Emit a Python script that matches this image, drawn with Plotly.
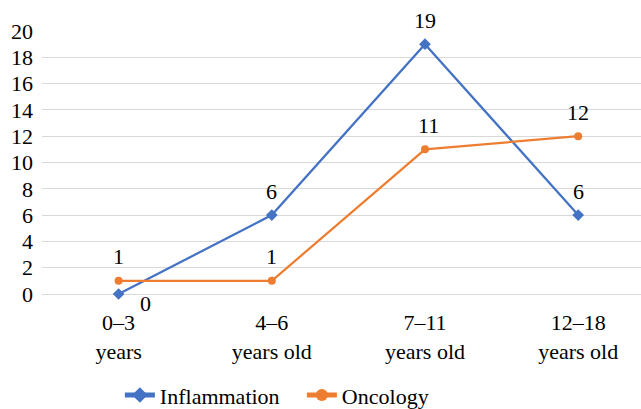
import plotly.graph_objects as go

categories = ["0–3<br>years", "4–6<br>years old", "7–11<br>years old", "12–18<br>years old"]
inflammation = [0, 6, 19, 6]
oncology = [1, 1, 11, 12]
y_ticks = list(range(0, 21, 2))

BLUE = "#4472C4"
ORANGE = "#ED7D31"
FONT = "Liberation Serif"

x_idx = list(range(len(categories)))

fig = go.Figure()
fig.add_trace(go.Scatter(
    x=x_idx, y=inflammation, name="Inflammation", mode="lines+markers",
    line=dict(color=BLUE, width=2.25),
    marker=dict(symbol="diamond", size=9, color=BLUE),
    cliponaxis=False,
))
fig.add_trace(go.Scatter(
    x=x_idx, y=oncology, name="Oncology", mode="lines+markers",
    line=dict(color=ORANGE, width=2.25),
    marker=dict(symbol="circle", size=8, color=ORANGE),
    cliponaxis=False,
))

annotations = []
for i, v in enumerate(inflammation):
    if i == 0:
        annotations.append(dict(x=i, y=v, text=str(v), showarrow=False,
                                xshift=27, yshift=-9))
    else:
        annotations.append(dict(x=i, y=v, text=str(v), showarrow=False,
                                yshift=24))
for i, v in enumerate(oncology):
    annotations.append(dict(x=i, y=v, text=str(v), showarrow=False,
                            yshift=24, xshift=4 if i == 2 else 0))
for a in annotations:
    a["font"] = dict(family=FONT, size=22, color="black")

fig.update_layout(
    width=641, height=409,
    margin=dict(l=42, r=0, t=31, b=115, autoexpand=False),
    paper_bgcolor="white", plot_bgcolor="white",
    font=dict(family=FONT, size=22, color="black"),
    showlegend=True,
    legend=dict(orientation="h", x=0.130, xanchor="left", y=-0.385, yanchor="middle",
                font=dict(family=FONT, size=22, color="black"),
                itemwidth=30, tracegroupgap=0, itemsizing="constant",
                entrywidth=137, entrywidthmode="pixels"),
    annotations=annotations,
)
fig.update_xaxes(
    range=[-0.5, 3.41], tickmode="array", tickvals=x_idx, ticktext=categories,
    showgrid=False, zeroline=False, showline=False, ticks="",
    ticklabelstandoff=13, automargin=False,
)
fig.update_yaxes(
    range=[0, 20], tickmode="array", tickvals=y_ticks,
    showgrid=True, gridcolor="#D9D9D9", gridwidth=1.3,
    zeroline=True, zerolinecolor="#D9D9D9", zerolinewidth=1.3,
    showline=False, ticks="", ticklabelstandoff=8, automargin=False,
)

fig.write_html("out.html", config={"displayModeBar": False},
               post_script="document.body.style.margin='0';")
